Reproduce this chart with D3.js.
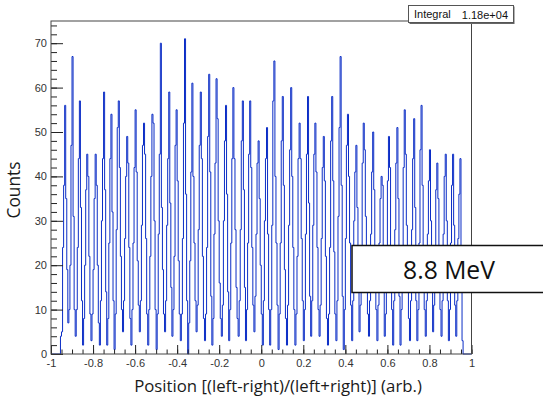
<!DOCTYPE html>
<html>
<head>
<meta charset="utf-8">
<script src="https://cdn.jsdelivr.net/npm/d3@7"></script>
<style>
  body { margin: 0; background: #fff; }
  svg { display: block; }
</style>
</head>
<body>
<div id="figure"></div>
<script>
// histogram definition: 400 bins from -1 to 1
const xRange = [-1, 1]
const yRange = [0, 75]
const xTicks = [-1, -0.8, -0.6, -0.4, -0.2, 0, 0.2, 0.4, 0.6, 0.8, 1]
const yTicks = [0, 10, 20, 30, 40, 50, 60, 70]
const statsLabel = 'Integral'
const statsValue = '1.18e+04'
const energyLabel = '8.8 MeV'
const xTitle = 'Position [(left-right)/(left+right)] (arb.)'
const yTitle = 'Counts'

// bin contents, one row per peak
const counts = [
  0, 0, 0, 0, 0, 0, 0, 0, 0, 4,
  5, 24, 38, 56, 35, 19, 7,
  10, 20, 47, 67, 31, 10, 4,
  10, 24, 44, 57, 33, 12, 2,
  8, 20, 37, 45, 40, 22, 9, 3,
  9, 19, 35, 45, 38, 20, 7, 2,
  12, 30, 44, 59, 37, 14, 2,
  8, 25, 44, 54, 32, 12, 1,
  9, 28, 51, 57, 42, 22, 10, 5,
  12, 26, 40, 49, 43, 24, 8, 2,
  10, 25, 42, 55, 41, 21, 11, 5,
  12, 29, 47, 52, 45, 26, 9, 2,
  10, 22, 40, 54, 52, 30, 10, 1,
  9, 27, 45, 70, 33, 19, 9, 5,
  12, 29, 44, 59, 34, 15, 4,
  10, 22, 47, 55, 39, 21, 9, 3,
  9, 26, 52, 71, 36, 12, 0,
  7, 21, 41, 61, 40, 25, 12, 5,
  11, 28, 47, 59, 44, 22, 8, 3,
  9, 24, 49, 63, 41, 13, 2,
  8, 27, 43, 62, 53, 30, 16, 8, 4,
  11, 30, 48, 56, 36, 14, 3,
  10, 25, 44, 60, 44, 28, 15, 8, 4,
  12, 28, 48, 57, 37, 15, 3,
  10, 25, 45, 57, 42, 24, 11, 5,
  13, 27, 43, 48, 35, 20, 9, 2,
  12, 30, 44, 51, 27, 10, 2,
  10, 29, 57, 66, 40, 25, 11, 1,
  9, 25, 48, 58, 38, 19, 8, 2,
  11, 29, 46, 60, 40, 24, 10, 2,
  9, 22, 44, 52, 44, 26, 12, 3,
  10, 27, 45, 58, 34, 13, 4,
  12, 29, 45, 52, 41, 24, 10, 4,
  11, 26, 42, 49, 39, 22, 8, 2,
  9, 24, 48, 58, 39, 23, 9, 3,
  12, 31, 51, 67, 38, 13, 1,
  10, 26, 47, 54, 40, 25, 11, 3,
  12, 30, 41, 47, 33, 15, 5,
  11, 24, 43, 52, 46, 31, 18, 9, 4,
  12, 27, 41, 50, 37, 21, 10, 3,
  11, 25, 35, 40, 38, 16, 4,
  9, 22, 39, 49, 42, 24, 10, 2,
  12, 28, 43, 51, 35, 13, 2,
  10, 23, 42, 55, 45, 29, 17, 8, 3,
  12, 28, 44, 53, 33, 12, 3,
  10, 25, 46, 56, 38, 22, 10, 4,
  12, 27, 39, 46, 30, 14, 5,
  11, 24, 37, 43, 35, 22, 10, 4,
  12, 27, 40, 45, 30, 12, 3,
  10, 25, 38, 45, 29, 11, 4,
  12, 26, 36, 44, 20, 3,
  0, 0, 0, 0, 0, 0, 0, 0
]

const width = 543
const height = 397
const frame = { left: 51, right: 471.5, top: 21, bottom: 354 }

const svg = d3.select('#figure').append('svg').attr('width', width).attr('height', height)

const x = d3.scaleLinear().domain(xRange).range([frame.left, frame.right])
const y = d3.scaleLinear().domain(yRange).range([frame.bottom, frame.top])

// fit a text element to a target width
function fitText(sel, target) {
  const w = sel.node().getComputedTextLength()
  const fs = parseFloat(sel.style('font-size'))
  sel.style('font-size', (fs * target / w) + 'px')
}

/**
 * histogram
 */
const binW = (xRange[1] - xRange[0]) / counts.length
const pts = counts.map((c, i) => [xRange[0] + i * binW, c])
pts.push([xRange[1], counts[counts.length - 1]])

const line = d3.line().x(d => x(d[0])).y(d => y(d[1])).curve(d3.curveStepAfter)

svg.append('path')
  .attr('d', line(pts))
  .attr('fill', 'none')
  .attr('stroke', '#0b2dc6')
  .attr('stroke-width', 1)

/**
 * axes
 */
const tickFont = '"Liberation Sans", Arial, sans-serif'

const xMinor = d3.range(-1, 1.0001, 0.05).map(v => +v.toFixed(2))
const yMinor = d3.range(0, 75, 2)

svg.append('g').attr('transform', `translate(0,${frame.bottom})`)
  .call(d3.axisBottom(x).tickValues(xMinor).tickSizeInner(-4.5).tickSizeOuter(0).tickFormat(''))
  .call(g => g.select('.domain').remove())

svg.append('g').attr('transform', `translate(0,${frame.bottom})`)
  .call(d3.axisBottom(x).tickValues(xTicks).tickSizeInner(-9).tickSizeOuter(0).tickPadding(5)
    .tickFormat(d => String(+d.toFixed(1))))
  .call(g => g.select('.domain').remove())
  .call(g => g.selectAll('text').attr('fill', '#333').style('font-family', tickFont).style('font-size', '11px'))

svg.append('g').attr('transform', `translate(${frame.left},0)`)
  .call(d3.axisLeft(y).tickValues(yMinor).tickSizeInner(-6).tickSizeOuter(0).tickFormat(''))
  .call(g => g.select('.domain').remove())

svg.append('g').attr('transform', `translate(${frame.left},0)`)
  .call(d3.axisLeft(y).tickValues(yTicks).tickSizeInner(-12).tickSizeOuter(0).tickPadding(4))
  .call(g => g.select('.domain').remove())
  .call(g => g.selectAll('text').attr('fill', '#333').style('font-family', tickFont).style('font-size', '11px'))

svg.selectAll('.tick line').attr('stroke', '#222')

// frame
svg.append('rect')
  .attr('x', frame.left).attr('y', frame.top)
  .attr('width', frame.right - frame.left).attr('height', frame.bottom - frame.top)
  .attr('fill', 'none').attr('stroke', '#444').attr('stroke-width', 1)

/**
 * titles
 */
const titleFont = '"Open Sans", "Noto Sans", sans-serif'

const yt = svg.append('text').text(yTitle)
  .attr('transform', 'translate(20,190) rotate(-90)')
  .attr('text-anchor', 'middle')
  .attr('fill', '#1a1a1a')
  .style('font-family', titleFont).style('font-size', '17px')
fitText(yt, 57)

const xt = svg.append('text').text(xTitle)
  .attr('x', 278).attr('y', 392)
  .attr('text-anchor', 'middle')
  .attr('fill', '#1a1a1a')
  .style('font-family', titleFont).style('font-size', '17px')
fitText(xt, 288)

/**
 * stats box
 */
const stats = svg.append('g')
stats.append('rect').attr('x', 409.5).attr('y', 6.5).attr('width', 105).attr('height', 17.5).attr('fill', '#666')
stats.append('rect').attr('x', 408.5).attr('y', 5.5).attr('width', 105).attr('height', 17)
  .attr('fill', '#fff').attr('stroke', '#555').attr('stroke-width', 1)
stats.append('text').text(statsLabel).attr('x', 414).attr('y', 18)
  .attr('fill', '#111').style('font-family', tickFont).style('font-size', '11px')
stats.append('text').text(statsValue).attr('x', 508).attr('y', 19)
  .attr('text-anchor', 'end')
  .attr('fill', '#111').style('font-family', tickFont).style('font-size', '11px')

/**
 * energy label
 */
svg.append('rect').attr('x', 352).attr('y', 245.5).attr('width', 220).attr('height', 47)
  .attr('fill', '#fff').attr('stroke', '#111').attr('stroke-width', 1.5)
const et = svg.append('text').text(energyLabel)
  .attr('x', 449).attr('y', 279)
  .attr('text-anchor', 'middle')
  .attr('fill', '#111')
  .style('font-family', titleFont).style('font-size', '26px')
fitText(et, 92)
</script>
</body>
</html>
